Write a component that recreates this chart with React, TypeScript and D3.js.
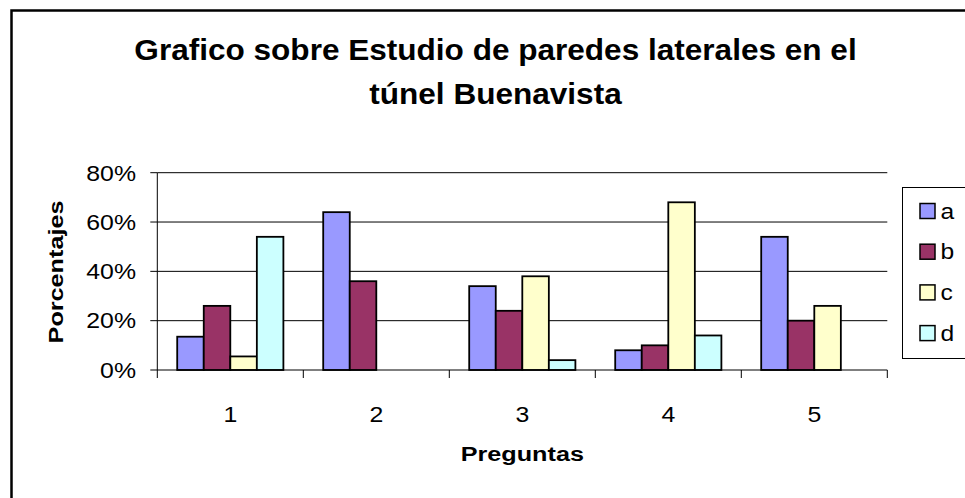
import React from "react";
import * as d3 from "d3";

const categories = ["1", "2", "3", "4", "5"];
const seriesNames = ["a", "b", "c", "d"];
const seriesA = [13.5, 64, 34, 8, 54];
const seriesB = [26, 36, 24, 10, 20];
const seriesC = [5.5, 0, 38, 68, 26];
const seriesD = [54, 0, 4, 14, 0];
const seriesValues = [seriesA, seriesB, seriesC, seriesD];
const yTicks = [0, 20, 40, 60, 80];
const colors = ["#9999FF", "#993366", "#FFFFCC", "#CCFFFF"];
const titleLines = ["Grafico sobre Estudio de paredes laterales en el", "túnel Buenavista"];
const yTitle = "Porcentajes";
const xTitle = "Preguntas";

const W = 965;
const H = 498;
const plotL = 157.3;
const plotR = 887.3;
const plotT = 172.7;
const plotB = 370;
const FONT = "'Liberation Sans', Arial, sans-serif";

export default function App() {
  const x0 = d3.scaleBand<string>().domain(categories).range([plotL, plotR]).paddingInner(0).paddingOuter(0);
  const x1 = d3
    .scaleBand<string>()
    .domain(seriesNames)
    .range([0, x0.bandwidth()])
    .paddingInner(0)
    .paddingOuter(0.75);
  const y = d3.scaleLinear().domain([0, 80]).range([plotB, plotT]);

  const boundaries = categories.map((c) => x0(c) as number).concat([plotR]);

  return (
    <svg
      width={W}
      height={H}
      viewBox={`0 0 ${W} ${H}`}
      style={{ position: "absolute", left: 0, top: 0, background: "#fff" }}
      fontFamily={FONT}
    >
      <rect x={0} y={0} width={W} height={H} fill="#fff" />
      {/* outer chart border */}
      <rect x={11.5} y={10.5} width={W + 20} height={H + 20} fill="none" stroke="#000" strokeWidth={2.5} />

      {/* title */}
      <text
        transform={`translate(495.5,60) scale(1.07,1)`}
        textAnchor="middle"
        fontSize={29.5}
        fontWeight="bold"
        fill="#000"
      >
        {titleLines[0]}
      </text>
      <text
        transform={`translate(495.5,104) scale(1.07,1)`}
        textAnchor="middle"
        fontSize={29.5}
        fontWeight="bold"
        fill="#000"
      >
        {titleLines[1]}
      </text>

      {/* gridlines */}
      {yTicks
        .filter((t) => t > 0)
        .map((t) => (
          <line key={"g" + t} x1={plotL} x2={plotR} y1={y(t)} y2={y(t)} stroke="#000" strokeWidth={1} />
        ))}

      {/* bars */}
      {categories.map((c, ci) =>
        seriesNames.map((s, si) => {
          const v = seriesValues[si][ci];
          if (!v) return null;
          const bx = (x0(c) as number) + (x1(s) as number);
          return (
            <rect
              key={c + s}
              x={bx}
              y={y(v)}
              width={x1.bandwidth()}
              height={plotB - y(v)}
              fill={colors[si]}
              stroke="#000"
              strokeWidth={1.8}
            />
          );
        })
      )}

      {/* y axis */}
      <line x1={plotL} x2={plotL} y1={plotT} y2={plotB} stroke="#000" strokeWidth={1} />
      {yTicks.map((t) => (
        <g key={"yt" + t}>
          <line x1={plotL - 7} x2={plotL} y1={y(t)} y2={y(t)} stroke="#000" strokeWidth={1} />
          <text
            transform={`translate(136,${y(t) + 7.8}) scale(1.13,1)`}
            textAnchor="end"
            fontSize={22}
            fill="#000"
          >
            {t + "%"}
          </text>
        </g>
      ))}

      {/* x axis */}
      <line x1={plotL} x2={plotR} y1={plotB} y2={plotB} stroke="#000" strokeWidth={1} />
      {boundaries.map((bx, i) => (
        <line key={"xt" + i} x1={bx} x2={bx} y1={plotB} y2={plotB + 8} stroke="#000" strokeWidth={1} />
      ))}
      {categories.map((c) => (
        <text
          key={"xl" + c}
          transform={`translate(${(x0(c) as number) + x0.bandwidth() / 2},422) scale(1.13,1)`}
          textAnchor="middle"
          fontSize={22}
          fill="#000"
        >
          {c}
        </text>
      ))}

      {/* axis titles */}
      <text
        transform={`translate(${(plotL + plotR) / 2},461) scale(1.2,1)`}
        textAnchor="middle"
        fontSize={21}
        fontWeight="bold"
        fill="#000"
      >
        {xTitle}
      </text>
      <text
        transform={`translate(62.5,272) rotate(-90) scale(1.2,1)`}
        textAnchor="middle"
        fontSize={21}
        fontWeight="bold"
        fill="#000"
      >
        {yTitle}
      </text>

      {/* legend */}
      <rect x={902.5} y={187.5} width={100} height={171} fill="#fff" stroke="#000" strokeWidth={1} />
      {seriesNames.map((s, i) => {
        const cy = 211 + i * 40.7;
        return (
          <g key={"lg" + s}>
            <rect x={920} y={cy - 7.5} width={15} height={15} fill={colors[i]} stroke="#000" strokeWidth={1.5} />
            <text transform={`translate(940.5,${cy + 7.5}) scale(1.12,1)`} fontSize={22} fill="#000">
              {s}
            </text>
          </g>
        );
      })}
    </svg>
  );
}
